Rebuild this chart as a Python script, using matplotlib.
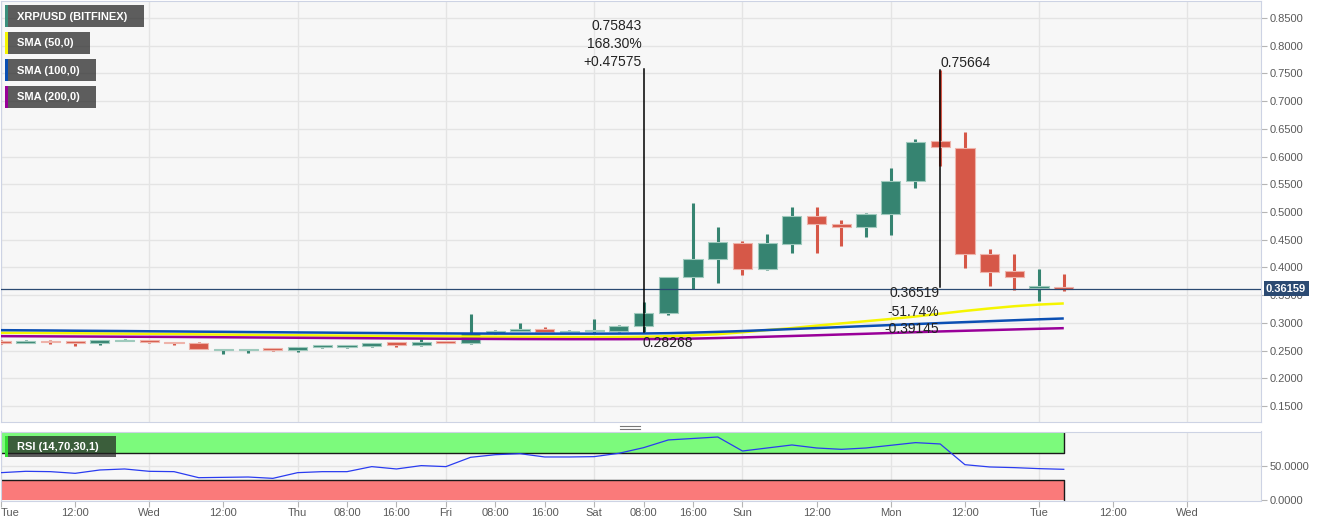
#!/usr/bin/env python
import numpy as np
import matplotlib as mpl
from matplotlib import pyplot as plt
from matplotlib.patches import Rectangle
from matplotlib.lines import Line2D
from matplotlib.ticker import FormatStrFormatter

mpl.rc('font', family=['Liberation Sans', 'DejaVu Sans'], size=8)

W, H = 1331, 526

# XRP/USD (Bitfinex) 4h candles, hour 0 = Tuesday 00:00
opens = [0.2675, 0.2640, 0.2665, 0.2664, 0.2628, 0.2672, 0.2688, 0.2655, 0.2645, 0.2512,
         0.2512, 0.2533, 0.2507, 0.2568, 0.2568, 0.2578, 0.2649, 0.2597, 0.2660, 0.2642,
         0.2808, 0.2850, 0.2886, 0.2836, 0.2845, 0.2850, 0.2940, 0.3180, 0.3820, 0.4155,
         0.4440, 0.3964, 0.4426, 0.4932, 0.4776, 0.4722, 0.4957, 0.5553, 0.6274, 0.6159,
         0.4240, 0.3933, 0.3635, 0.3653]
highs = [0.2690, 0.2693, 0.2698, 0.2668, 0.2685, 0.2700, 0.2692, 0.2660, 0.2650, 0.2535,
         0.2537, 0.2548, 0.2570, 0.2600, 0.2590, 0.2642, 0.2655, 0.2700, 0.2680, 0.3157,
         0.2868, 0.2989, 0.2922, 0.2868, 0.3067, 0.2960, 0.3368, 0.3825, 0.5167, 0.4727,
         0.4475, 0.4601, 0.5088, 0.5088, 0.4854, 0.4975, 0.5787, 0.6316, 0.75664, 0.6442,
         0.4336, 0.4240, 0.3969, 0.3879]
lows = [0.2620, 0.2635, 0.2622, 0.2585, 0.2603, 0.2665, 0.2640, 0.2603, 0.2520, 0.2440,
        0.2458, 0.2495, 0.2476, 0.2555, 0.2550, 0.2558, 0.2560, 0.2590, 0.2630, 0.2610,
        0.2790, 0.2848, 0.2814, 0.2830, 0.2820, 0.2836, 0.28268, 0.3139, 0.3603, 0.3722,
        0.3867, 0.3960, 0.4264, 0.4264, 0.4390, 0.4553, 0.4583, 0.5437, 0.5834, 0.3993,
        0.3668, 0.3590, 0.3397, 0.3578]
closes = [0.2640, 0.2665, 0.2647, 0.2628, 0.2682, 0.2688, 0.2646, 0.2638, 0.2525, 0.2530,
          0.2528, 0.2515, 0.2565, 0.2585, 0.2580, 0.2638, 0.2597, 0.2652, 0.2645, 0.2808,
          0.2850, 0.2886, 0.2838, 0.2856, 0.2860, 0.2940, 0.3170, 0.3825, 0.4150, 0.4451,
          0.3964, 0.4433, 0.4921, 0.4782, 0.4722, 0.4957, 0.5558, 0.6262, 0.6177, 0.4240,
          0.3921, 0.3830, 0.3655, 0.36159]

sma50 = [0.2820, 0.2818, 0.2815, 0.2812, 0.2808, 0.2805, 0.2802, 0.2798, 0.2792, 0.2788,
         0.2784, 0.2780, 0.2776, 0.2773, 0.2770, 0.2766, 0.2762, 0.2758, 0.2755, 0.2752,
         0.2750, 0.2748, 0.2746, 0.2744, 0.2743, 0.2745, 0.2750, 0.2760, 0.2775, 0.2795,
         0.2830, 0.2870, 0.2905, 0.2950, 0.2990, 0.3030, 0.3070, 0.3115, 0.3165, 0.3215,
         0.3260, 0.3300, 0.3330, 0.3350]
sma100 = [0.2868, 0.2865, 0.2862, 0.2858, 0.2855, 0.2852, 0.2848, 0.2845, 0.2841, 0.2838,
          0.2834, 0.2831, 0.2827, 0.2824, 0.2820, 0.2817, 0.2814, 0.2811, 0.2809, 0.2807,
          0.2806, 0.2805, 0.2805, 0.2805, 0.2805, 0.2806, 0.2808, 0.2814, 0.2824, 0.2837,
          0.2852, 0.2870, 0.2888, 0.2906, 0.2924, 0.2942, 0.2960, 0.2978, 0.2996, 0.3013,
          0.3030, 0.3047, 0.3064, 0.3079]
sma200 = [0.2760, 0.2758, 0.2756, 0.2754, 0.2752, 0.2750, 0.2748, 0.2746, 0.2743, 0.2740,
          0.2737, 0.2734, 0.2731, 0.2728, 0.2725, 0.2722, 0.2719, 0.2716, 0.2713, 0.2711,
          0.2709, 0.2707, 0.2706, 0.2705, 0.2705, 0.2705, 0.2706, 0.2710, 0.2716, 0.2726,
          0.2737, 0.2750, 0.2763, 0.2776, 0.2790, 0.2803, 0.2817, 0.2831, 0.2845, 0.2857,
          0.2869, 0.2881, 0.2893, 0.2904]

rsi = [40.5, 42.5, 42.0, 39.5, 44.5, 46.0, 42.5, 42.0, 33.0, 33.5,
       34.0, 32.0, 40.5, 42.0, 42.0, 49.5, 46.0, 51.0, 49.5, 63.4,
       67.3, 68.8, 63.9, 63.9, 64.4, 69.4, 77.8, 89.3, 91.5, 93.7,
       72.8, 77.3, 81.8, 77.3, 75.3, 77.3, 81.3, 85.3, 83.3, 52.4,
       49.0, 48.0, 46.5, 45.5]

last_price = 0.36159

# price range measurements: (hour, from, to, percent, change)
measure_hours = [104, 152]
measure_from = [0.28268, 0.75664]
measure_to = [0.75843, 0.36519]
measure_pct = ['168.30%', '-51.74%']
measure_chg = ['+0.47575', '-0.39145']

tick_hours = [0, 12, 24, 36, 48, 56, 64, 72, 80, 88, 96, 104, 112, 120, 132, 144, 156, 168, 180, 192]
tick_labels = ['Tue', '12:00', 'Wed', '12:00', 'Thu', '08:00', '16:00', 'Fri', '08:00', '16:00',
               'Sat', '08:00', '16:00', 'Sun', '12:00', 'Mon', '12:00', 'Tue', '12:00', 'Wed']
day_hours = [0, 24, 48, 72, 96, 120, 144, 168, 192]

legend_labels = ['XRP/USD (BITFINEX)', 'SMA (50,0)', 'SMA (100,0)', 'SMA (200,0)']

GREEN = '#368471'
RED = '#d65848'
GRID = '#e4e4e4'
SPINE = '#cdd3e4'
BG = '#f7f7f7'
SMA_COLORS = ['#f5f500', '#0b4fb3', '#990099']

o = np.array(opens)
c = np.array(closes)
t = np.arange(len(o)) * 4.0

fig = plt.figure(figsize=(W / 100, H / 100), dpi=100, facecolor='white')
ax = fig.add_axes([0.5 / W, 1 - 422 / H, 1260.5 / W, 421.5 / H], facecolor=BG)
rax = fig.add_axes([0.5 / W, 1 - 500.5 / H, 1260.5 / W, 69 / H], facecolor=BG, sharex=ax)

xl = (0.5 - 1) / 6.179
xr = 1260 / 6.179
ax.set_xlim(xl, xr)
ax.set_ylim(0.1211, 0.8816)
rax.set_ylim(-1.04, 101.9)

for a in (ax, rax):
    for s in a.spines.values():
        s.set_color(SPINE)
        s.set_linewidth(0.8)
    for d in day_hours:
        a.axvline(d, color=GRID, lw=1, zorder=0)
    a.yaxis.tick_right()
    a.tick_params(axis='y', direction='out', length=4, color='#b5b5b5',
                  labelcolor='#5a5a5a', labelsize=8, pad=2)

# price panel
ax.set_yticks(np.arange(0.15, 0.851, 0.05))
ax.yaxis.set_major_formatter(FormatStrFormatter('%.4f'))
ax.yaxis.grid(True, color=GRID, lw=1, zorder=0)
ax.set_axisbelow(True)
ax.tick_params(axis='x', bottom=False, labelbottom=False)

up = c >= o
colors = np.where(up, GREEN, RED)
edges = np.where(up, '#9fcabd', '#eeb3aa')
ax.vlines(t, lows, highs, colors=colors, lw=2.2, zorder=3)
ax.bar(t, np.maximum(np.abs(c - o), 0.0025), bottom=np.minimum(o, c), width=3.1,
       color=colors, edgecolor=edges, linewidth=0.8, zorder=4)

for vals, col in zip([sma50, sma100, sma200], SMA_COLORS):
    ax.plot(t, vals, color=col, lw=1.8, zorder=5, solid_capstyle='butt')

ax.axhline(last_price, color='#2b4a72', lw=0.9, zorder=4.5)
ax.annotate('%.5f' % last_price, xy=(1.0, last_price), xycoords=('axes fraction', 'data'),
            xytext=(5, 0), textcoords='offset pixels', ha='left', va='center',
            color='white', fontweight='bold', fontsize=8, zorder=20, annotation_clip=False,
            bbox=dict(boxstyle='square,pad=0.22', fc='#2b4a72', ec='none'))

# measuring tool drawings
txt = dict(fontsize=10, color='#222222', textcoords='offset pixels', zorder=7)
for h, p0, p1, pct, chg in zip(measure_hours, measure_from, measure_to, measure_pct, measure_chg):
    ax.plot([h, h], [p0, p1], color='black', lw=1.1, zorder=6)
    if p1 > p0:
        ax.annotate('%.5f' % p1, xy=(h, p1), xytext=(-2, 43), ha='right', va='center', **txt)
        ax.annotate(pct, xy=(h, p1), xytext=(-2, 24.5), ha='right', va='center', **txt)
        ax.annotate(chg, xy=(h, p1), xytext=(-2, 6.5), ha='right', va='center', **txt)
        ax.annotate('%.5f' % p0, xy=(h, p0), xytext=(-1, -11), ha='left', va='center', **txt)
    else:
        ax.annotate('%.5f' % p0, xy=(h, p0), xytext=(0, 6.5), ha='left', va='center', **txt)
        ax.annotate('%.5f' % p1, xy=(h, p1), xytext=(-1, -6), ha='right', va='center', **txt)
        ax.annotate(pct, xy=(h, p1), xytext=(-1, -25), ha='right', va='center', **txt)
        ax.annotate(chg, xy=(h, p1), xytext=(-1, -42.5), ha='right', va='center', **txt)

# RSI panel
rax.set_yticks([0, 50])
rax.yaxis.set_major_formatter(FormatStrFormatter('%.4f'))
rax.axhline(50, color=GRID, lw=1, zorder=0)
rax.fill_between([xl, t[-1]], 70, 100, color='#7cfa7c', lw=0, zorder=1)
rax.fill_between([xl, t[-1]], 0, 30, color='#fa7a7a', lw=0, zorder=1)
rax.plot([xl, t[-1], t[-1]], [70, 70, 100], color='#1a1a1a', lw=1, zorder=2)
rax.plot([xl, t[-1], t[-1]], [30, 30, 0], color='#1a1a1a', lw=1, zorder=2)
rax.plot(t, rsi, color='#2a3cf0', lw=0.9, zorder=3)

rax.set_xticks(tick_hours)
rax.set_xticklabels(tick_labels)
rax.tick_params(axis='x', direction='out', length=4, color='#b5b5b5',
                labelcolor='#5a5a5a', labelsize=8, pad=1.5)
rax.get_xticklabels()[0].set_horizontalalignment('left')


# overlay labels in figure pixels (top-left origin)
def fig_rect(x, y, w, h, **kw):
    fig.add_artist(Rectangle((x / W, 1 - (y + h) / H), w / W, h / H,
                             transform=fig.transFigure, zorder=10, **kw))


box_widths = [139, 85, 91, 91]
stripe_colors = ['#3a8f7c'] + SMA_COLORS
for k, (lab, bw, sc) in enumerate(zip(legend_labels, box_widths, stripe_colors)):
    y0 = 5 + 27 * k
    fig_rect(5, y0, bw, 22, facecolor='#222222', alpha=0.72, edgecolor='none')
    fig_rect(5, y0, 3, 22, facecolor=sc, edgecolor='none')
    fig.text(17 / W, 1 - (y0 + 11.5) / H, lab, color='white', fontweight='bold',
             fontsize=8, va='center', ha='left', zorder=11)

fig_rect(4.5, 436, 111, 21, facecolor='#222222', alpha=0.72, edgecolor='none')
fig_rect(4.5, 436, 3, 21, facecolor='#33dd33', edgecolor='none')
fig.text(17 / W, 1 - 446.5 / H, 'RSI (14,70,30,1)', color='white', fontweight='bold',
         fontsize=8, va='center', ha='left', zorder=11)

# panel resize handle
for yy in (425.5, 428.5):
    fig.add_artist(Line2D([620 / W, 640 / W], [1 - yy / H, 1 - yy / H],
                          transform=fig.transFigure, color='#777777', lw=0.8))

fig.savefig('out.png', dpi=100, facecolor='white')
